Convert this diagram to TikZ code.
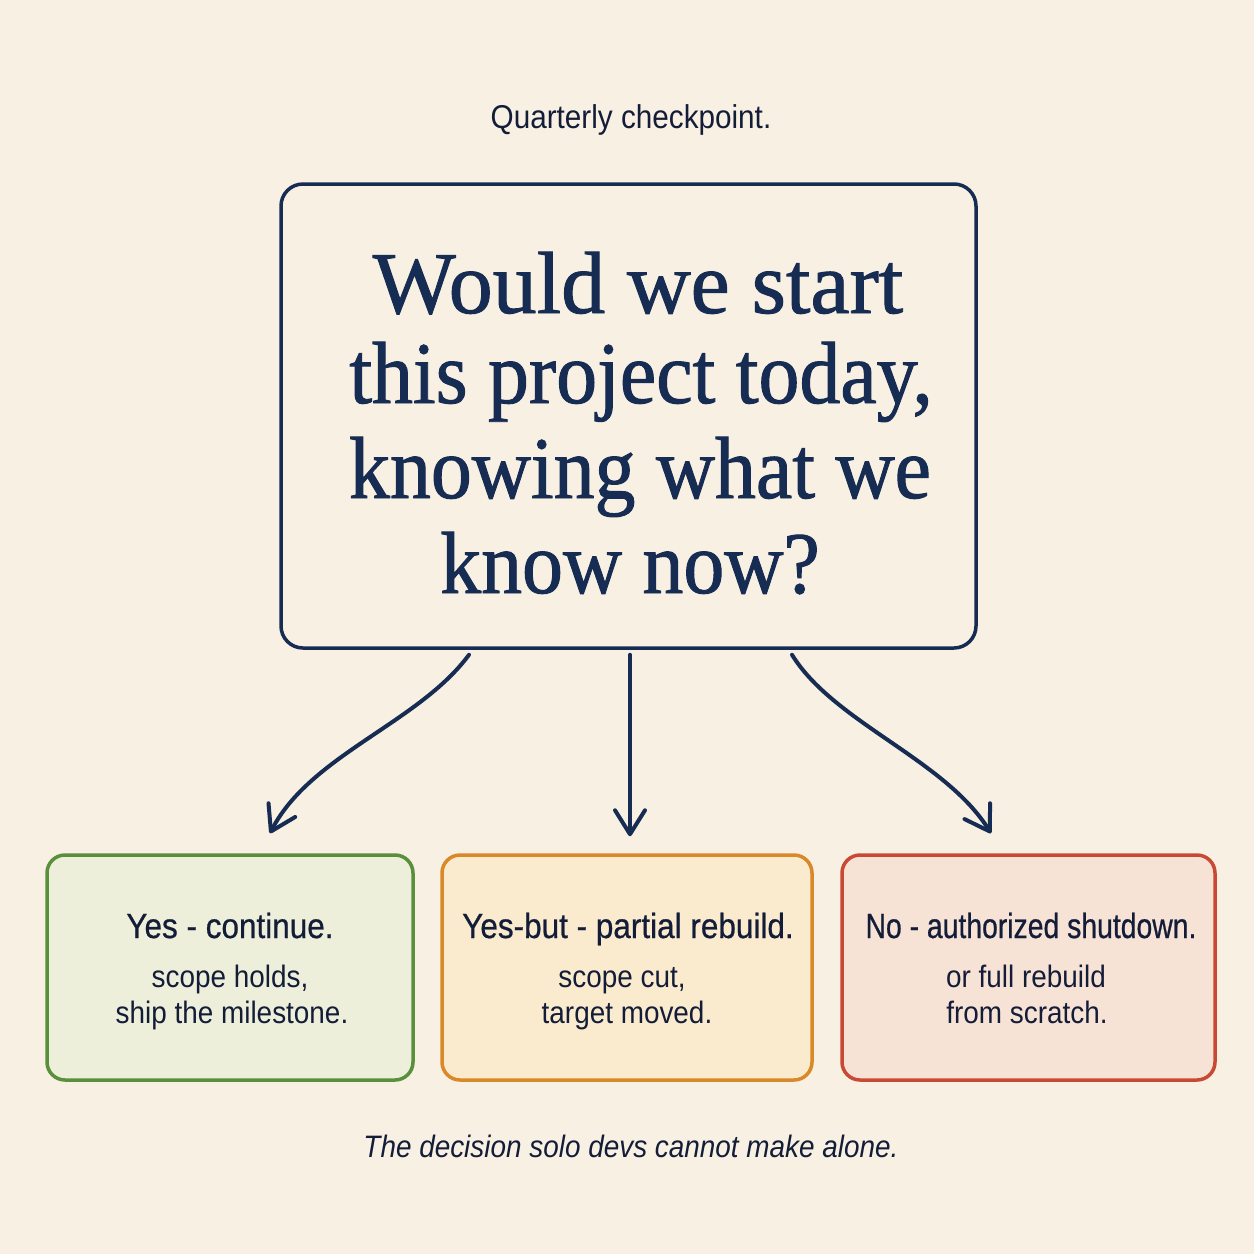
\documentclass[tikz,border=0pt]{standalone}
\usepackage{fontspec}
\usetikzlibrary{arrows.meta,calc}
\newfontfamily\sansf[FakeStretch=0.9]{Liberation Sans}
\newfontfamily\sansm[FakeStretch=0.9,FakeBold=0.6]{Liberation Sans}
\newfontfamily\sansmn[FakeStretch=0.81,FakeBold=0.6]{Liberation Sans}
\newfontfamily\serq[FakeStretch=0.93,FakeBold=1.1]{Liberation Serif}
\newfontfamily\serqw[FakeStretch=1.0,FakeBold=1.1]{Liberation Serif}
\definecolor{bg}{HTML}{F8F0E3}
\definecolor{navy}{HTML}{172C52}
\definecolor{ink}{HTML}{141D38}
\definecolor{gfill}{HTML}{EEEFDA}
\definecolor{gline}{HTML}{5A8F3C}
\definecolor{ofill}{HTML}{FAEBCF}
\definecolor{oline}{HTML}{D9882A}
\definecolor{rfill}{HTML}{F7E2D6}
\definecolor{rline}{HTML}{C94A34}
\begin{document}
\begin{tikzpicture}[x=1pt,y=-1pt,
  choice/.style={draw, line width=3.5pt, rounded corners=18pt, minimum height=225pt, inner sep=0pt},
  ctitle/.style={anchor=base, text=ink, font=\sansm\fontsize{35}{40}\selectfont, inner sep=0pt},
  csub/.style={anchor=base, text=ink, font=\sansf\fontsize{31}{36}\selectfont, inner sep=0pt},
  qline/.style={anchor=base, text=navy, font=\serq\fontsize{88}{93}\selectfont, inner sep=0pt},
  arr/.style={draw=navy, line width=4pt, line cap=round, line join=round, -{Straight Barb[length=24pt,width=30pt,line cap=round,line join=round]}}
]
\fill[bg] (0,0) rectangle (1254,1254);
\useasboundingbox (0,0) rectangle (1254,1254);

\node[anchor=base, text=ink, font=\sansf\fontsize{33}{38}\selectfont, inner sep=0pt] (head) at (631,128) {Quarterly checkpoint.};

\node[draw=navy, line width=3.5pt, rounded corners=22pt, minimum width=695pt, minimum height=464pt, inner sep=0pt] (main) at (628.5,416) {};
\node[qline, font=\serqw\fontsize{88}{93}\selectfont] (q1) at (638,313) {Would we start};
\node[qline] (q2) at (641,403) {this project today,};
\node[qline] (q3) at (640,498) {knowing what we};
\node[qline] (q4) at (630,593) {know now?};

\node[choice, draw=gline, fill=gfill, minimum width=366pt] (g) at (230,967.5) {};
\node[choice, draw=oline, fill=ofill, minimum width=370pt] (o) at (627,967.5) {};
\node[choice, draw=rline, fill=rfill, minimum width=373pt] (r) at (1028.5,967.5) {};

\node[ctitle] (gt) at (230,938) {Yes - continue.};
\node[csub] (gs1) at (230,987) {scope holds,};
\node[csub] (gs2) at (232,1023) {ship the milestone.};

\node[ctitle] (ot) at (628,938) {Yes-but - partial rebuild.};
\node[csub] (os1) at (622,987) {scope cut,};
\node[csub] (os2) at (627,1023) {target moved.};

\node[ctitle, font=\sansmn\fontsize{35}{40}\selectfont] (rt) at (1031,938) {No - authorized shutdown.};
\node[csub] (rs1) at (1026,987) {or full rebuild};
\node[csub] (rs2) at (1027,1023) {from scratch.};

\node[anchor=base, text=ink, font=\sansf\itshape\fontsize{31}{36}\selectfont, inner sep=0pt] (cap) at (631,1157) {The decision solo devs cannot make alone.};

\coordinate (a1s) at ($(main.south)+(-159.5,5)$);
\coordinate (a1e) at ($(g.north)+(40,-20)$);
\coordinate (a2s) at ($(main.south)+(1.5,5)$);
\coordinate (a2e) at ($(main.south |- o.north)+(1.5,-17)$);
\coordinate (a3s) at ($(main.south)+(163.5,5)$);
\coordinate (a3e) at ($(r.north)+(-37.5,-20)$);

\draw[arr] (a1s) .. controls ($(a1s)+(-50,68)$) and ($(a1e)+(40,-78)$) .. (a1e);
\draw[arr] (a2s) -- (a2e);
\draw[arr] (a3s) .. controls ($(a3s)+(42,68)$) and ($(a3e)+(-46,-74)$) .. (a3e);
\end{tikzpicture}
\end{document}
